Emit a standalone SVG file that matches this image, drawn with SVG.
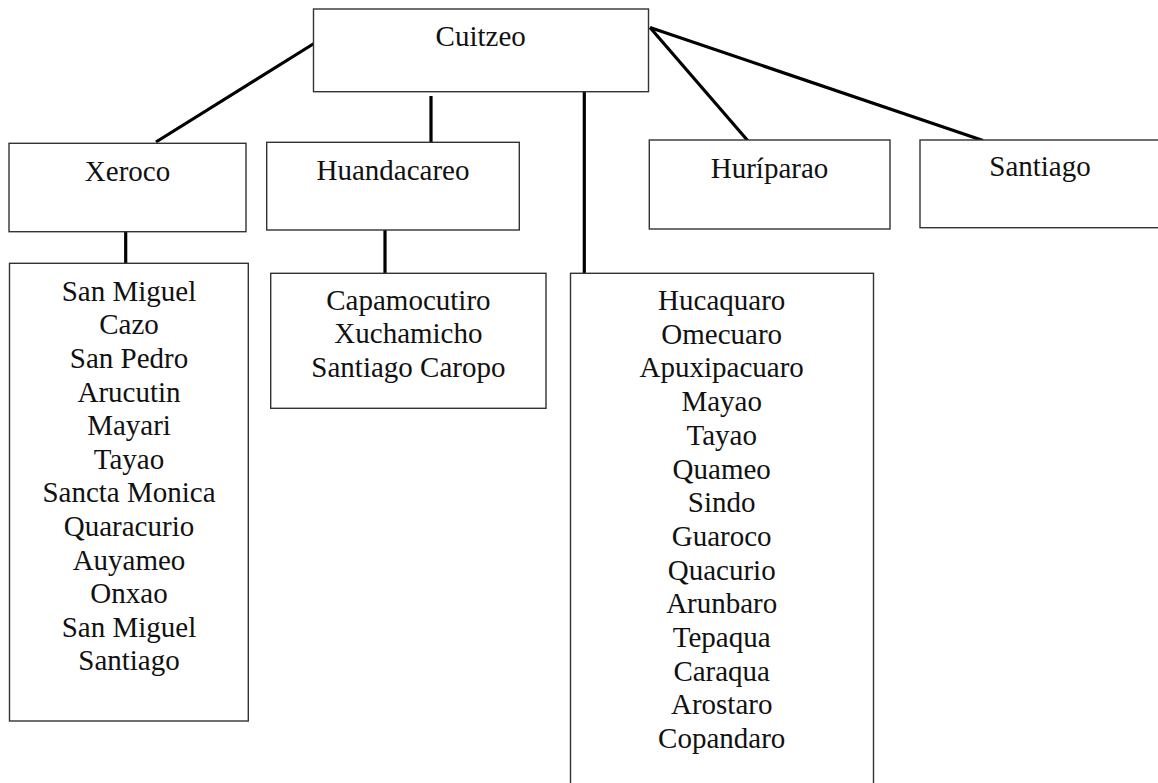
<svg xmlns="http://www.w3.org/2000/svg" width="1158" height="783" viewBox="0 0 1158 783">
  <style>
    .box { fill: #ffffff; stroke: #333333; stroke-width: 1.4; }
    .lbl { font-size: 29px; fill: #111111; text-anchor: middle; }
    .link { stroke: #000000; stroke-width: 3.2; fill: none; stroke-linecap: butt; }
  </style>
  <rect width="1158" height="783" fill="#ffffff"/>

  <!-- connectors -->
  <g id="connectors">
    <line class="link" x1="314" y1="43.5" x2="156" y2="142"/>
    <line class="link" x1="431" y1="96" x2="431" y2="143"/>
    <line class="link" x1="584.3" y1="92" x2="584.3" y2="273"/>
    <line class="link" x1="650" y1="27.5" x2="748.5" y2="141.5"/>
    <line class="link" x1="650" y1="27.5" x2="983" y2="140.5"/>
    <line class="link" x1="125.7" y1="232" x2="125.7" y2="263"/>
    <line class="link" x1="385" y1="230" x2="385" y2="276"/>
  </g>

  <g font-family="'Liberation Serif', 'DejaVu Serif', 'Times New Roman', serif">
  <!-- top node -->
  <g id="cuitzeo">
    <rect class="box" x="313.5" y="9" width="335" height="82.7"/>
    <text class="lbl" x="480.7" y="45.7">Cuitzeo</text>
  </g>

  <!-- second level -->
  <g id="xeroco">
    <rect class="box" x="9" y="143.3" width="237" height="88.4"/>
    <text class="lbl" x="127.5" y="180.7">Xeroco</text>
  </g>
  <g id="huandacareo">
    <rect class="box" x="266.7" y="142.3" width="252.6" height="87.7"/>
    <text class="lbl" x="393" y="180">Huandacareo</text>
  </g>
  <g id="huriparao">
    <rect class="box" x="649.3" y="140" width="240.7" height="89"/>
    <text class="lbl" x="769.5" y="178">Huríparao</text>
  </g>
  <g id="santiago">
    <rect class="box" x="920" y="140" width="242" height="87.7"/>
    <text class="lbl" x="1040" y="176">Santiago</text>
  </g>

  <!-- settlement lists -->
  <g id="xeroco-list">
    <rect class="box" x="9.5" y="263.3" width="238.8" height="457.7"/>
    <text class="lbl" x="129" y="300.7">San Miguel</text>
    <text class="lbl" x="129" y="334.3">Cazo</text>
    <text class="lbl" x="129" y="367.9">San Pedro</text>
    <text class="lbl" x="129" y="401.5">Arucutin</text>
    <text class="lbl" x="129" y="435.1">Mayari</text>
    <text class="lbl" x="129" y="468.7">Tayao</text>
    <text class="lbl" x="129" y="502.3">Sancta Monica</text>
    <text class="lbl" x="129" y="535.9">Quaracurio</text>
    <text class="lbl" x="129" y="569.5">Auyameo</text>
    <text class="lbl" x="129" y="603.1">Onxao</text>
    <text class="lbl" x="129" y="636.7">San Miguel</text>
    <text class="lbl" x="129" y="670.3">Santiago</text>
  </g>
  <g id="huandacareo-list">
    <rect class="box" x="270.7" y="273.3" width="275.3" height="135"/>
    <text class="lbl" x="408.4" y="310">Capamocutiro</text>
    <text class="lbl" x="408.4" y="343.3">Xuchamicho</text>
    <text class="lbl" x="408.4" y="376.6">Santiago Caropo</text>
  </g>
  <g id="cuitzeo-list">
    <rect class="box" x="570.5" y="273.3" width="303" height="520"/>
    <text class="lbl" x="721.7" y="310">Hucaquaro</text>
    <text class="lbl" x="721.7" y="343.7">Omecuaro</text>
    <text class="lbl" x="721.7" y="377.4">Apuxipacuaro</text>
    <text class="lbl" x="721.7" y="411.1">Mayao</text>
    <text class="lbl" x="721.7" y="444.8">Tayao</text>
    <text class="lbl" x="721.7" y="478.5">Quameo</text>
    <text class="lbl" x="721.7" y="512.2">Sindo</text>
    <text class="lbl" x="721.7" y="545.9">Guaroco</text>
    <text class="lbl" x="721.7" y="579.6">Quacurio</text>
    <text class="lbl" x="721.7" y="613.3">Arunbaro</text>
    <text class="lbl" x="721.7" y="647">Tepaqua</text>
    <text class="lbl" x="721.7" y="680.7">Caraqua</text>
    <text class="lbl" x="721.7" y="714.4">Arostaro</text>
    <text class="lbl" x="721.7" y="748.1">Copandaro</text>
  </g>
  </g>
</svg>
